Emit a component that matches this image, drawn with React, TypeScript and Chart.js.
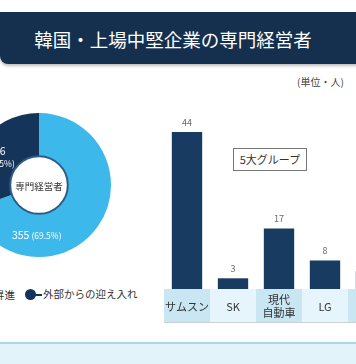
import React, { useEffect, useRef } from "react";
import { Chart, registerables } from "chart.js";
Chart.register(...registerables);

const TITLE = "韓国・上場中堅企業の専門経営者";
const UNIT = "(単位・人)";
const PIE_LABELS = ["内部昇進", "外部からの迎え入れ"];
const PIE_VALUES = [355, 156];
const PIE_PERCENTS = ["69.5%", "30.5%"];
const PIE_CENTER = "専門経営者";
const GROUP_LABELS: (string | string[])[] = ["サムスン", "SK", ["現代", "自動車"], "LG", "ロッテ"];
const GROUP_VALUES = [44, 3, 17, 8, 5];
const GROUP_BOX = "5大グループ";

const FONT = '"Noto Sans CJK JP", "Noto Sans", sans-serif';
const LIGHT = "#3db8ea";
const DARK = "#15345a";
const BAR = "#183b61";

const doughnutDecor = {
  id: "doughnutDecor",
  afterDatasetsDraw(chart: any) {
    const ctx = chart.ctx;
    const arcs = chart.getDatasetMeta(0).data as any[];
    const p0 = arcs[0].getProps(["x", "y", "innerRadius", "outerRadius", "startAngle", "endAngle"], true);
    const { x, y, innerRadius, outerRadius } = p0;
    ctx.save();
    ctx.beginPath();
    ctx.arc(x, y, innerRadius, 0, Math.PI * 2);
    ctx.fillStyle = "#fff";
    ctx.fill();
    ctx.lineWidth = 2;
    ctx.strokeStyle = "#2e5d84";
    ctx.stroke();
    ctx.fillStyle = "#333";
    ctx.font = `9.5px ${FONT}`;
    ctx.textAlign = "center";
    ctx.textBaseline = "middle";
    ctx.fillText(PIE_CENTER, x, y + 1);

    // light slice label (single line)
    const a0 = p0.startAngle + 0.73 * (p0.endAngle - p0.startAngle);
    const r0 = (innerRadius + outerRadius) / 2;
    const lx = x + Math.cos(a0) * r0;
    const ly = y + Math.sin(a0) * r0;
    const big = String(PIE_VALUES[0]);
    const small = `(${PIE_PERCENTS[0]})`;
    ctx.fillStyle = "#fff";
    ctx.font = `10.5px ${FONT}`;
    const wb = ctx.measureText(big).width + 2;
    ctx.font = `8.5px ${FONT}`;
    const ws = ctx.measureText(small).width;
    const sx = lx - (wb + ws) / 2;
    ctx.textAlign = "left";
    ctx.font = `10.5px ${FONT}`;
    ctx.fillText(big, sx, ly);
    ctx.font = `8.5px ${FONT}`;
    ctx.fillText(small, sx + wb, ly + 0.5);

    // dark slice label (two lines)
    const p1 = arcs[1].getProps(["startAngle", "endAngle"], true);
    const a1 = (p1.startAngle + p1.endAngle) / 2;
    const dx = x + Math.cos(a1) * r0;
    const dy = y + Math.sin(a1) * r0;
    ctx.textAlign = "center";
    ctx.font = `10.5px ${FONT}`;
    ctx.fillText(String(PIE_VALUES[1]), dx - 1, dy - 5);
    ctx.font = `8.5px ${FONT}`;
    ctx.fillText(`(${PIE_PERCENTS[1]})`, dx + 2, dy + 8);
    ctx.restore();
  },
};

const barDecor = {
  id: "barDecor",
  beforeDraw(chart: any) {
    const ctx = chart.ctx;
    const xs = chart.scales.x;
    const area = chart.chartArea;
    const step = xs.getPixelForValue(1) - xs.getPixelForValue(0);
    ctx.save();
    GROUP_LABELS.forEach((_, i) => {
      const c = xs.getPixelForValue(i);
      ctx.fillStyle = i % 2 === 0 ? "#c8e7f3" : "#e6f5fb";
      ctx.fillRect(c - step / 2, area.bottom, step, chart.height - area.bottom);
    });
    ctx.fillStyle = "#c9d3d8";
    ctx.fillRect(0, chart.height - 1, chart.width, 1);
    ctx.restore();
  },
  afterDatasetsDraw(chart: any) {
    const ctx = chart.ctx;
    const bars = chart.getDatasetMeta(0).data as any[];
    ctx.save();
    ctx.fillStyle = "#6b6b6b";
    ctx.font = `9px ${FONT}`;
    ctx.textAlign = "center";
    ctx.textBaseline = "middle";
    bars.forEach((b, i) => {
      const { x, y } = b.getProps(["x", "y"], true);
      ctx.fillText(String(GROUP_VALUES[i]), x, y - 10);
    });
    ctx.restore();
  },
};

export default function App() {
  const pieRef = useRef<HTMLCanvasElement>(null);
  const barRef = useRef<HTMLCanvasElement>(null);

  useEffect(() => {
    const pie = new Chart(pieRef.current!, {
      type: "doughnut",
      data: {
        labels: PIE_LABELS,
        datasets: [
          {
            data: PIE_VALUES,
            backgroundColor: [LIGHT, DARK],
            borderWidth: 0,
          },
        ],
      },
      options: {
        responsive: false,
        animation: false,
        cutout: "40%",
        layout: { padding: 0 },
        plugins: { legend: { display: false }, tooltip: { enabled: false } },
      },
      plugins: [doughnutDecor],
    });

    const bar = new Chart(barRef.current!, {
      type: "bar",
      data: {
        labels: GROUP_LABELS as any,
        datasets: [
          {
            data: GROUP_VALUES,
            backgroundColor: BAR,
            borderWidth: 0,
            barPercentage: 0.66,
            categoryPercentage: 1,
          },
        ],
      },
      options: {
        responsive: false,
        animation: false,
        layout: { padding: 0 },
        plugins: { legend: { display: false }, tooltip: { enabled: false } },
        scales: {
          x: {
            grid: { display: false, drawTicks: false },
            border: { display: false },
            ticks: {
              color: "#333",
              font: { family: FONT, size: 11 },
              crossAlign: "center",
              padding: 11,
              autoSkip: false,
              maxRotation: 0,
            },
            afterFit: (axis: any) => {
              axis.height = 34;
              axis.paddingLeft = 0;
              axis.paddingRight = 0;
            },
          },
          y: { display: false, min: 0, max: 53 },
        },
      },
      plugins: [barDecor],
    });

    return () => {
      pie.destroy();
      bar.destroy();
    };
  }, []);

  return (
    <div
      style={{
        position: "fixed",
        left: 0,
        top: 0,
        width: 356,
        height: 364,
        overflow: "hidden",
        background: "#fff",
        fontFamily: FONT,
      }}
    >
      <div
        style={{
          position: "absolute",
          left: 0,
          top: 12,
          width: 370,
          height: 52,
          background: "#15304f",
          borderRadius: "0 0 0 8px",
          boxShadow: "0 2px 3px rgba(0,0,0,0.25)",
        }}
      />
      <div
        style={{
          position: "absolute",
          left: 0,
          top: 12,
          width: 346,
          height: 52,
          lineHeight: "54px",
          textAlign: "center",
          color: "#fff",
          fontSize: 18.5,
        }}
      >
        {TITLE}
      </div>
      <div
        style={{
          position: "absolute",
          left: 297,
          top: 74,
          fontSize: 10,
          color: "#444",
          whiteSpace: "nowrap",
        }}
      >
        {UNIT}
      </div>

      <canvas
        ref={pieRef}
        width={144}
        height={144}
        style={{ position: "absolute", left: -33, top: 113, width: 144, height: 144 }}
      />

      {/* legend */}
      <div
        style={{
          position: "absolute",
          right: 356 - 15,
          top: 288,
          fontSize: 10.5,
          color: "#333",
          whiteSpace: "nowrap",
          lineHeight: "14px",
        }}
      >
        {PIE_LABELS[0]}
      </div>
      <div
        style={{
          position: "absolute",
          left: 24.5,
          top: 289,
          width: 11,
          height: 11,
          borderRadius: "50%",
          background: DARK,
        }}
      />
      <div
        style={{ position: "absolute", left: 34, top: 294, width: 8, height: 1.5, background: DARK }}
      />
      <div
        style={{
          position: "absolute",
          left: 43,
          top: 287,
          fontSize: 10.5,
          color: "#333",
          whiteSpace: "nowrap",
          lineHeight: "14px",
        }}
      >
        {PIE_LABELS[1]}
      </div>

      <canvas
        ref={barRef}
        width={230}
        height={223}
        style={{ position: "absolute", left: 164, top: 100, width: 230, height: 223 }}
      />

      <div
        style={{
          position: "absolute",
          left: 233,
          top: 148,
          width: 72,
          height: 21,
          border: "1px solid #777",
          background: "#fff",
          fontSize: 11,
          color: "#333",
          textAlign: "center",
          lineHeight: "21px",
          whiteSpace: "nowrap",
        }}
      >
        {GROUP_BOX}
      </div>

      <div
        style={{
          position: "absolute",
          left: 0,
          top: 342,
          width: 356,
          height: 22,
          background: "#e2f4fa",
          borderTop: "2px solid #a8d9e8",
        }}
      />
    </div>
  );
}
